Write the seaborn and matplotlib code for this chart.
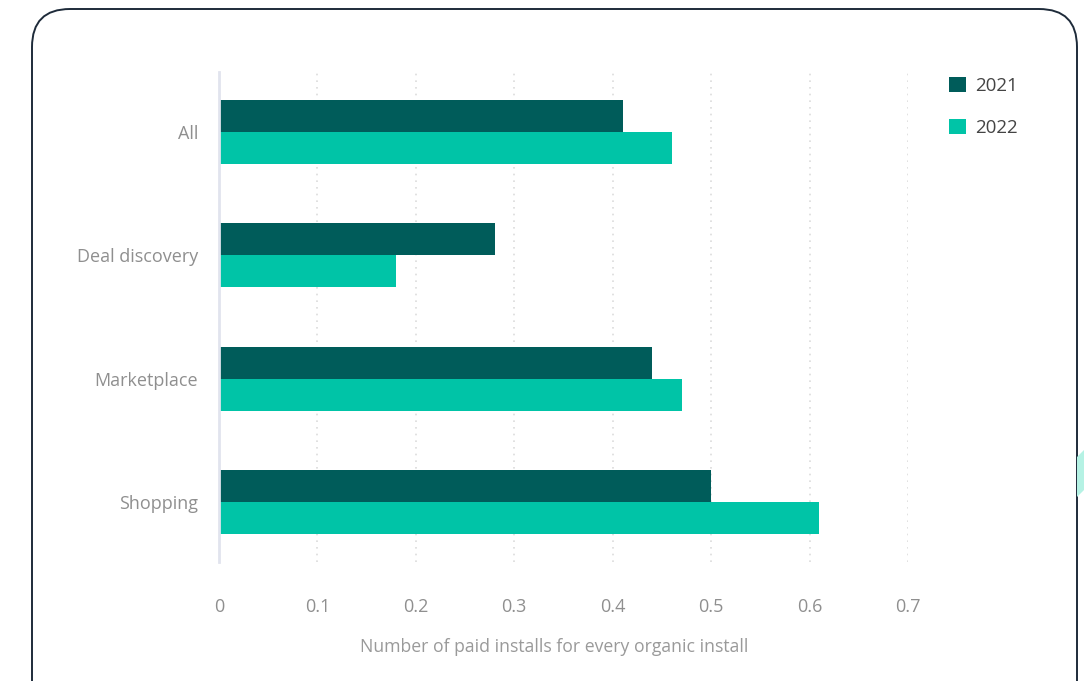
import matplotlib
matplotlib.use("Agg")
import matplotlib.pyplot as plt
import seaborn as sns
import pandas as pd
from matplotlib.patches import FancyBboxPatch, Polygon, Patch

categories = ["All", "Deal discovery", "Marketplace", "Shopping"]
years = ["2021", "2022"]
values_2021 = [0.41, 0.28, 0.44, 0.50]
values_2022 = [0.46, 0.18, 0.47, 0.61]
x_ticks = [0, 0.1, 0.2, 0.3, 0.4, 0.5, 0.6, 0.7]
x_tick_labels = ["0", "0.1", "0.2", "0.3", "0.4", "0.5", "0.6", "0.7"]
x_label = "Number of paid installs for every organic install"

colors = {"2021": "#005c5a", "2022": "#00c4a7"}

df = pd.DataFrame({
    "category": categories * 2,
    "year": ["2021"] * 4 + ["2022"] * 4,
    "value": values_2021 + values_2022,
})

sns.set_theme(style="white")
plt.rcParams["font.family"] = ["Open Sans", "DejaVu Sans"]

W, H = 1084, 681
fig = plt.figure(figsize=(W / 100, H / 100), dpi=100)
ax = fig.add_axes([219 / W, 1 - 562 / H, (908 - 219) / W, (562 - 72) / H])

sns.barplot(data=df, x="value", y="category", hue="year", order=categories,
            hue_order=years, palette=colors, orient="h", width=0.52,
            linewidth=0, saturation=1, ax=ax, legend=False, errorbar=None)

ax.set_xlim(0, 0.7)
ax.set_ylim(3.49, -0.49)
ax.set_xticks(x_ticks)
ax.set_xticklabels(x_tick_labels)
ax.set_ylabel("")
ax.set_xlabel(x_label, fontsize=12.7, color="#9a9a9a")
ax.xaxis.set_label_coords((554 - 219) / (908 - 219), -(647 - 562) / (562 - 72))
ax.xaxis.label.set_verticalalignment("center")

for v in x_ticks[1:]:
    ax.axvline(v, color="#dcdcdc", linestyle=(0, (1, 3)), linewidth=1.2, zorder=0)

for s in ["top", "right", "bottom"]:
    ax.spines[s].set_visible(False)
ax.spines["left"].set_color("#e1e4ee")
ax.spines["left"].set_linewidth(2)

ax.tick_params(axis="x", length=0, pad=26, labelsize=13, labelcolor="#8f8f8f")
ax.tick_params(axis="y", length=0, pad=15, labelsize=13, labelcolor="#8f8f8f")

handles = [Patch(facecolor=colors[y], edgecolor="none", label=y) for y in years]
fig.legend(handles=handles, loc="upper left", bbox_to_anchor=(932 / W, 1 - 60 / H),
           frameon=False, fontsize=13.5, handlelength=0.9, handleheight=0.9,
           handletextpad=0.5, labelspacing=1.25, labelcolor="#444444")

border = FancyBboxPatch((32, -40), 1045, H - 9 + 40,
                        boxstyle="round,pad=0,rounding_size=38",
                        transform=None, facecolor="none", edgecolor="#1e2b3a",
                        linewidth=1.4, figure=fig)
fig.patches.append(border)

deco = Polygon([[1077, H - 457], [1084, H - 450], [1084, H - 490], [1077, H - 497]],
               closed=True, transform=None, facecolor="#b5f2e4", edgecolor="none",
               figure=fig)
fig.patches.append(deco)

fig.savefig("out.png", dpi=100)
